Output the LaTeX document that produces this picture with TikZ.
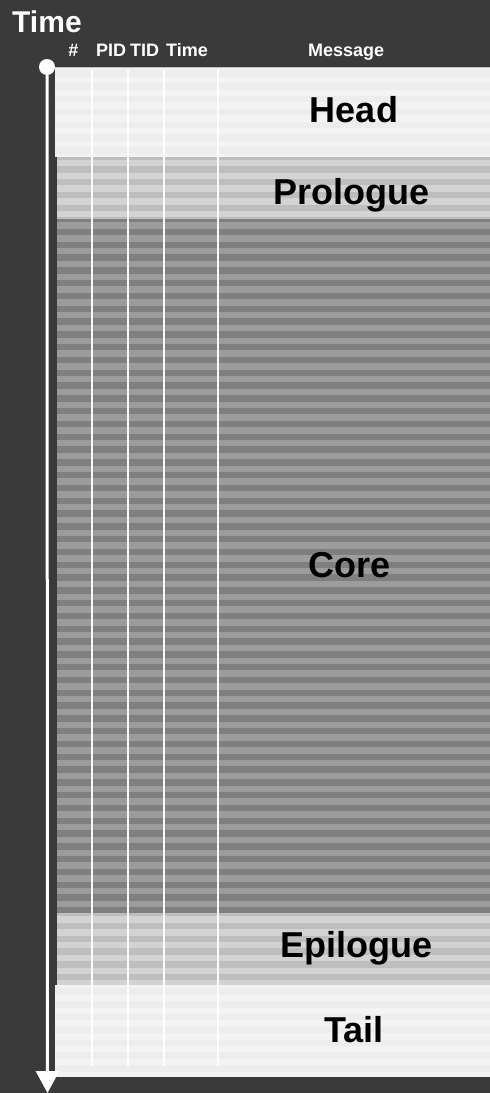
\documentclass[tikz,border=0pt]{standalone}
\usepackage{fontspec}
\setmainfont{Liberation Sans}
\usetikzlibrary{arrows.meta}
\definecolor{bg}{HTML}{3A3A3A}
\definecolor{hdA}{HTML}{F3F3F3}
\definecolor{hdB}{HTML}{EDEDED}
\definecolor{prA}{HTML}{BEBEBE}
\definecolor{prB}{HTML}{D3D3D3}
\definecolor{coA}{HTML}{7F7F7F}
\definecolor{coB}{HTML}{9C9C9C}
\newcommand\stripesec[6]{%
  \fill[#4] (#1,#2) rectangle (490,#3);
  \begin{scope}
    \clip (#1,#2) rectangle (490,#3);
    \foreach \k in {0,...,58} {
      \fill[#5] (#1,{#2+#6+2*\k*6.4}) rectangle (490,{#2+#6+2*\k*6.4+6.4});
    }
  \end{scope}}
\begin{document}
\begin{tikzpicture}[x=1pt,y=-1pt,
  seclabel/.style={anchor=base,text=black,font=\fontsize{36}{40}\selectfont\bfseries,inner sep=0pt},
  colhead/.style={anchor=base west,text=white,font=\fontsize{18}{20}\selectfont\bfseries,inner sep=0pt},
  colline/.style={draw=white,opacity=0.95,line width=1.1pt}]
\fill[bg] (0,0) rectangle (490,1093);
\useasboundingbox (0,0) rectangle (490,1093);
% sections
\stripesec{55}{67}{156.5}{hdA}{hdB}{3.3}
\stripesec{56.5}{156.5}{219}{prA}{prB}{3.3}
\stripesec{56.5}{219}{913}{coA}{coB}{3.3}
\stripesec{56.5}{913}{985}{prA}{prB}{3.3}
\stripesec{55}{985}{1077}{hdA}{hdB}{3.3}
\draw[draw=black!25,line width=0.8pt] (55,67.3) -- (490,67.3);
% column lines
\foreach \cx in {92,128,164,218} {
  \draw[colline] (\cx,70) -- (\cx,1066);
}
% labels
\node[anchor=base west,text=white,font=\fontsize{30}{34}\selectfont\bfseries,inner sep=0pt] (timelbl) at (12,32) {Time};
\node[anchor=base,text=white,font=\fontsize{18}{20}\selectfont\bfseries,inner sep=0pt] (hash) at (73.5,56) {\#};
\node[colhead] (pid) at (96,56) {PID};
\node[colhead] (tid) at (130,56) {TID};
\node[colhead] (ctime) at (166,56) {Time};
\node[colhead] (msg) at (308,56) {Message};
\node[seclabel] (head) at (354,122) {Head};
\node[seclabel] (prologue) at (351,204) {Prologue};
\node[seclabel] (core) at (350,577) {Core};
\node[seclabel] (epilogue) at (356,957) {Epilogue};
\node[seclabel] (tail) at (354,1042) {Tail};
% time arrow
\node[circle,fill=white,minimum size=16pt,inner sep=0pt] (start) at (47,67) {};
\coordinate (end) at (47.5,1093);
\draw[white,line width=3pt,-{Triangle[width=23pt,length=22pt]}] (start) -- (end);
\end{tikzpicture}
\end{document}
